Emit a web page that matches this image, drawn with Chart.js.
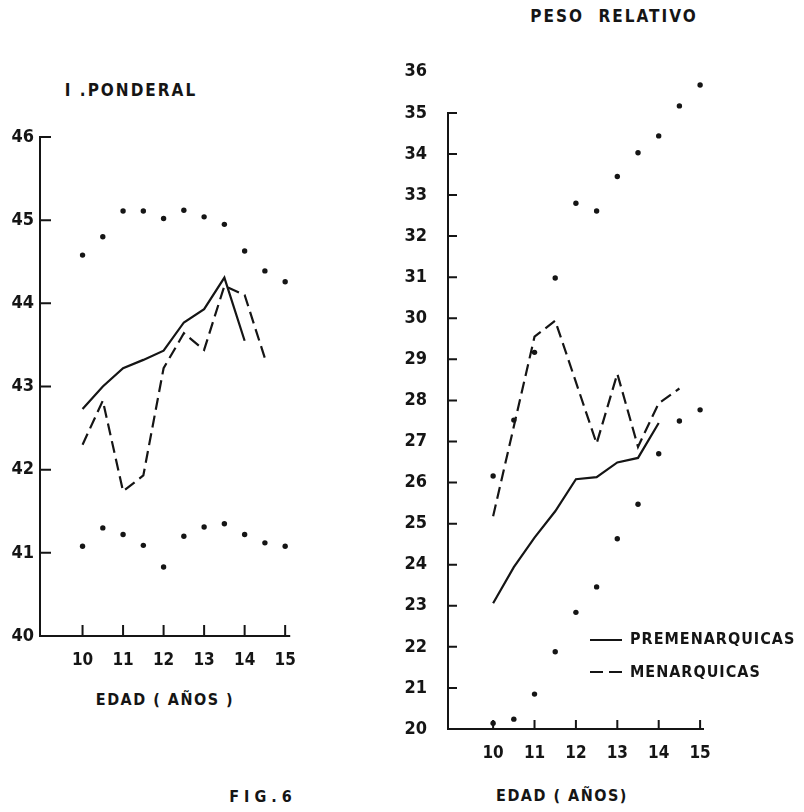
<!DOCTYPE html>
<html>
<head>
<meta charset="utf-8">
<script src="https://cdn.jsdelivr.net/npm/chart.js@4.4.1/dist/chart.umd.min.js"></script>
<style>
  body { margin: 0; background: #fff; }
  #page { position: relative; width: 804px; height: 812px; overflow: hidden; background: #fff; }
  canvas { position: absolute; }
  .lbl {
    position: absolute; transform: translate(-50%, -50%);
    font-family: 'DejaVu Sans Condensed', 'DejaVu Sans', sans-serif;
    font-weight: bold; color: #151515; white-space: pre; line-height: 1;
  }
  .leg { position: absolute; font-family: 'DejaVu Sans Condensed', 'DejaVu Sans', sans-serif;
    font-weight: bold; color: #151515; font-size: 16px; letter-spacing: 1px; line-height: 1; white-space: pre; }
  .sw { position: absolute; width: 32px; height: 2px; background: #151515; }
  .sw.dash { background: repeating-linear-gradient(to right, #151515 0 13px, transparent 13px 19px); }
</style>
</head>
<body>
<div id="page">
  <canvas id="ipChart" width="310" height="560" style="left:0;top:120px"></canvas>
  <canvas id="prChart" width="404" height="740" style="left:400px;top:40px"></canvas>

  <div class="lbl" style="left:131px;top:90px;font-size:17px;letter-spacing:2px">I .PONDERAL</div>
  <div class="lbl" style="left:614px;top:16px;font-size:17px;letter-spacing:2px">PESO  RELATIVO</div>
  <div class="lbl" style="left:165px;top:700px;font-size:16px;letter-spacing:1.5px">EDAD ( AÑOS )</div>
  <div class="lbl" style="left:562px;top:796px;font-size:16px;letter-spacing:1.5px">EDAD ( AÑOS)</div>
  <div class="lbl" style="left:263px;top:797px;font-size:16px;letter-spacing:5px">FIG.6</div>

  <div class="sw" style="left:590px;top:639px"></div>
  <div class="leg" style="left:630px;top:631px">PREMENARQUICAS</div>
  <div class="sw dash" style="left:590px;top:671px"></div>
  <div class="leg" style="left:630px;top:664px">MENARQUICAS</div>
</div>

<script>
// ages (years)
const ages = [10, 10.5, 11, 11.5, 12, 12.5, 13, 13.5, 14, 14.5, 15];
const preAges = [10, 10.5, 11, 11.5, 12, 12.5, 13, 13.5, 14];
const menAgesIP = [10, 10.5, 11, 11.5, 12, 12.5, 13, 13.5, 14, 14.5];
const menAgesPR = [10, 11, 11.5, 12.5, 13, 13.5, 14, 14.5];
const xLabels = [10, 11, 12, 13, 14, 15];

// I. ponderal
const ipUpper = [44.58, 44.80, 45.11, 45.11, 45.02, 45.12, 45.04, 44.95, 44.63, 44.39, 44.26];
const ipLower = [41.08, 41.30, 41.22, 41.09, 40.83, 41.20, 41.31, 41.35, 41.22, 41.12, 41.08];
const ipPre = [42.73, 43.00, 43.22, 43.32, 43.43, 43.77, 43.93, 44.31, 43.55];
const ipMen = [42.30, 42.83, 41.74, 41.93, 43.22, 43.64, 43.44, 44.21, 44.10, 43.34];
const ipTicks = [40, 41, 42, 43, 44, 45, 46];

// peso relativo
const prUpper = [26.16, 27.52, 29.17, 30.98, 32.80, 32.61, 33.45, 34.03, 34.44, 35.17, 35.68];
const prLower = [20.14, 20.24, 20.85, 21.88, 22.84, 23.46, 24.63, 25.47, 26.70, 27.50, 27.77];
const prPre = [23.06, 23.94, 24.66, 25.30, 26.08, 26.13, 26.49, 26.60, 27.45];
const prMen = [25.18, 29.55, 29.94, 26.95, 28.65, 26.87, 27.93, 28.29];
const prTicks = [20, 21, 22, 23, 24, 25, 26, 27, 28, 29, 30, 31, 32, 33, 34, 35, 36];

const ink = '#151515';
const fontFam = "'DejaVu Sans Condensed', 'DejaVu Sans', sans-serif";

function pts(xs, ys){
    return xs.map((a, i) => ({x: a, y: ys[i]}));
}

// hand drawn looking axes, ticks pointing inward
const handAxes = {
    id: 'handAxes',
    beforeDatasetsDraw(chart, args, o){
        const {ctx, scales: {x, y}} = chart;
        const x0 = x.left, x1 = x.right, yb = y.bottom;
        const yt = y.getPixelForValue(o.yTop);
        ctx.save();
        ctx.strokeStyle = ink;
        ctx.lineWidth = 2;
        ctx.lineCap = 'square';
        ctx.beginPath();
        ctx.moveTo(x0, yt);
        ctx.lineTo(x0, yb);
        ctx.lineTo(x1, yb);
        o.yTicks.forEach(v => {
            const p = y.getPixelForValue(v);
            ctx.moveTo(x0, p);
            ctx.lineTo(x0 + o.len, p);
        });
        xLabels.forEach(v => {
            const p = x.getPixelForValue(v);
            ctx.moveTo(p, yb);
            ctx.lineTo(p, yb - o.len);
        });
        ctx.stroke();
        ctx.restore();
    }
};

function makeChart(id, cfg){
    return new Chart(document.getElementById(id), {
        type: 'scatter',
        data: {
            datasets: [
                {data: pts(ages, cfg.upper), pointRadius: 2.7, backgroundColor: ink, borderWidth: 0, showLine: false},
                {data: pts(ages, cfg.lower), pointRadius: 2.7, backgroundColor: ink, borderWidth: 0, showLine: false},
                {data: pts(preAges, cfg.pre), showLine: true, borderColor: ink, borderWidth: 2.2, pointRadius: 0, tension: 0},
                {data: pts(cfg.menAges, cfg.men), showLine: true, borderColor: ink, borderWidth: 2.2, borderDash: [12, 6], pointRadius: 0, tension: 0}
            ]
        },
        options: {
            responsive: false,
            animation: false,
            layout: {padding: cfg.padding},
            plugins: {
                legend: {display: false},
                tooltip: {enabled: false},
                handAxes: {yTop: cfg.yTop, yTicks: cfg.axisTicks, len: cfg.len}
            },
            scales: {
                x: {
                    type: 'linear', min: cfg.xMin, max: cfg.xMax,
                    afterBuildTicks(s){ s.ticks = xLabels.map(v => ({value: v})); },
                    afterFit(s){ s.height = cfg.xH; },
                    grid: {display: false, drawTicks: false},
                    border: {display: false},
                    ticks: {padding: 14, color: ink, font: {family: fontFam, weight: 'bold', size: 17}}
                },
                y: {
                    min: cfg.yMin, max: cfg.yMax,
                    afterBuildTicks(s){ s.ticks = cfg.labels.map(v => ({value: v})); },
                    afterFit(s){ s.width = cfg.yW; },
                    grid: {display: false, drawTicks: false},
                    border: {display: false},
                    ticks: {padding: cfg.yPad, color: ink, font: {family: fontFam, weight: 'bold', size: 18}}
                }
            }
        },
        plugins: [handAxes]
    });
}

makeChart('ipChart', {
    upper: ipUpper, lower: ipLower, pre: ipPre, men: ipMen, menAges: menAgesIP,
    xMin: 8.95, xMax: 15.1, yMin: 40, yMax: 46, yTop: 46,
    labels: ipTicks, axisTicks: [41, 42, 43, 44, 45, 46], len: 10,
    padding: {top: 17, right: 12, left: 0, bottom: 0}, xH: 44, yW: 40, yPad: 6
});

makeChart('prChart', {
    upper: prUpper, lower: prLower, pre: prPre, men: prMen, menAges: menAgesPR,
    xMin: 8.91, xMax: 15.07, yMin: 20, yMax: 36, yTop: 35,
    labels: prTicks, axisTicks: [21, 22, 23, 24, 25, 26, 27, 28, 29, 30, 31, 32, 33, 34, 35], len: 8,
    padding: {top: 22, right: 101, left: 0, bottom: 0}, xH: 51, yW: 48, yPad: 21
});
</script>
</body>
</html>
